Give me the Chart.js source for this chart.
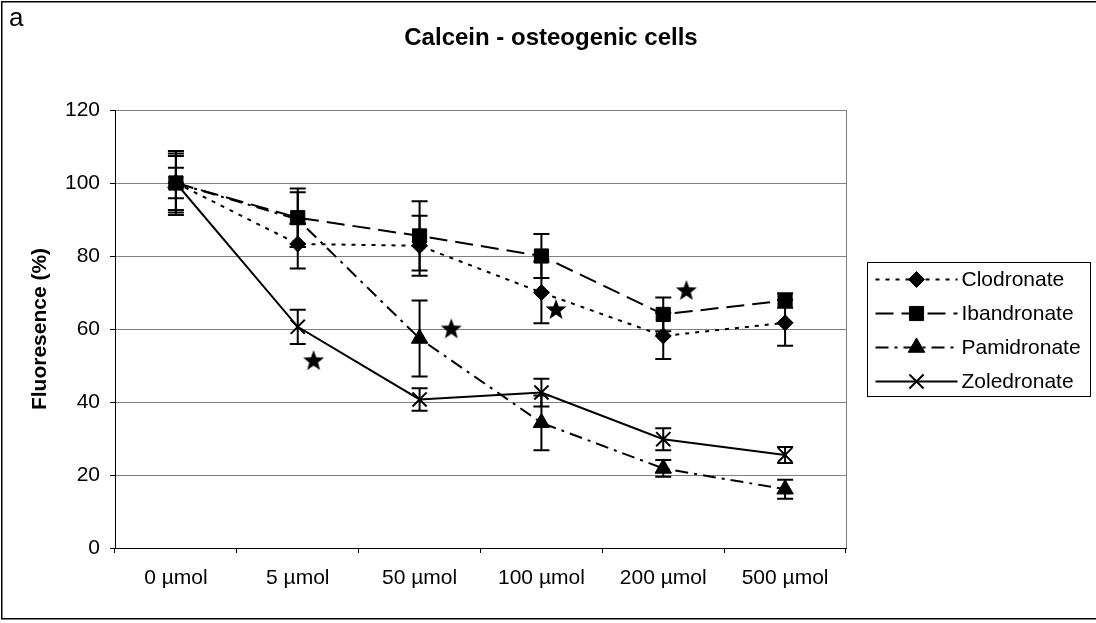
<!DOCTYPE html>
<html><head><meta charset="utf-8">
<script src="https://cdn.jsdelivr.net/npm/chart.js@4"></script>
<style>html,body{margin:0;padding:0;background:#fff;}</style>
</head><body>
<canvas id="c" width="1096" height="623" style="display:block;width:1096px;height:623px"></canvas>
<script>
// ---- data ----
const categories = ['0 µmol', '5 µmol', '50 µmol', '100 µmol', '200 µmol', '500 µmol'];
const seriesNames = ['Clodronate', 'Ibandronate', 'Pamidronate', 'Zoledronate'];
const clodronate = [100, 83.3, 82.8, 70, 58.1, 61.7];
const clodronateErr = [8.1, 6.7, 8.2, 8.4, 6.3, 6.3];
const ibandronate = [100, 90.5, 85.5, 80, 64, 67.8];
const ibandronateErr = [7.4, 8, 9.5, 6, 4.6, 2];
const pamidronate = [100, 90, 57.4, 34.3, 21.8, 16.1];
const pamidronateErr = [8.8, 7.5, 10.4, 7.5, 2.3, 2.6];
const zoledronate = [100, 60.6, 40.7, 42.6, 29.8, 25.5];
const zoledronateErr = [4.2, 4.7, 3.1, 3.8, 3, 2.2];
const starX = [1.13, 2.26, 3.12, 4.19];
const starY = [51.2, 59.9, 65.2, 70.4];
const yTicks = [0, 20, 40, 60, 80, 100, 120];
const chartTitle = 'Calcein - osteogenic cells';
const yTitle = 'Fluoresence (%)';
const panelLabel = 'a';

const FONT = "'Liberation Sans', Arial, Helvetica, sans-serif";
Chart.defaults.font.family = FONT;
Chart.defaults.color = '#000';

function makeStar(R) {
  const c = document.createElement('canvas');
  const s = Math.ceil(R * 2 + 2);
  c.width = s; c.height = s;
  const g = c.getContext('2d');
  g.translate(s / 2, s / 2);
  g.beginPath();
  for (let k = 0; k < 10; k++) {
    const r = k % 2 ? R * 0.42 : R;
    const a = -Math.PI / 2 + k * Math.PI / 5;
    g.lineTo(r * Math.cos(a), r * Math.sin(a));
  }
  g.closePath();
  g.fillStyle = '#000';
  g.fill();
  return c;
}
const starImg = makeStar(11);

function lineDs(label, data, errors, dash, style, radius, bw) {
  return {
    label, data, errors,
    borderColor: '#000', backgroundColor: '#000',
    borderWidth: 2, borderDash: dash, tension: 0,
    pointStyle: style, pointRadius: radius, pointHoverRadius: radius,
    pointBackgroundColor: '#000', pointBorderColor: '#000', pointBorderWidth: bw,
    xAxisID: 'x', yAxisID: 'y', isSeries: true
  };
}

const datasets = [
  lineDs(seriesNames[0], clodronate, clodronateErr, [4, 6], 'rectRot', 8, 1),
  lineDs(seriesNames[1], ibandronate, ibandronateErr, [18, 8], 'rect', 10, 1),
  lineDs(seriesNames[2], pamidronate, pamidronateErr, [13, 6, 3, 6], 'triangle', 9.5, 1),
  lineDs(seriesNames[3], zoledronate, zoledronateErr, [], 'crossRot', 10, 2),
  {
    label: 'stars',
    data: starX.map((x, i) => ({ x, y: starY[i] })),
    showLine: false, pointStyle: starImg, pointRadius: 11,
    xAxisID: 'xs', yAxisID: 'y', borderColor: '#000', backgroundColor: '#000'
  }
];

function drawMarker(ctx, style, x, y, r) {
  ctx.save();
  ctx.fillStyle = '#000'; ctx.strokeStyle = '#000'; ctx.setLineDash([]);
  ctx.beginPath();
  if (style === 'rectRot') {
    ctx.moveTo(x, y - r); ctx.lineTo(x + r, y); ctx.lineTo(x, y + r); ctx.lineTo(x - r, y); ctx.closePath();
    ctx.lineWidth = 1; ctx.fill(); ctx.stroke();
  } else if (style === 'rect') {
    const s = r * Math.SQRT1_2;
    ctx.rect(x - s, y - s, 2 * s, 2 * s); ctx.lineWidth = 1; ctx.fill(); ctx.stroke();
  } else if (style === 'triangle') {
    for (let k = 0; k < 3; k++) {
      const a = k * 2 * Math.PI / 3;
      ctx.lineTo(x + Math.sin(a) * r, y - Math.cos(a) * r);
    }
    ctx.closePath(); ctx.lineWidth = 1; ctx.fill(); ctx.stroke();
  } else if (style === 'crossRot') {
    const s = r * Math.SQRT1_2;
    ctx.moveTo(x - s, y - s); ctx.lineTo(x + s, y + s);
    ctx.moveTo(x + s, y - s); ctx.lineTo(x - s, y + s);
    ctx.lineWidth = 2; ctx.stroke();
  }
  ctx.restore();
}

const decor = {
  id: 'decor',
  beforeDraw(chart) {
    const ctx = chart.ctx;
    ctx.save(); ctx.fillStyle = '#fff'; ctx.fillRect(0, 0, chart.width, chart.height); ctx.restore();
  },
  afterDatasetsDraw(chart) {
    const ctx = chart.ctx; const ys = chart.scales.y;
    chart.data.datasets.forEach((ds, di) => {
      if (!ds.errors) return;
      const meta = chart.getDatasetMeta(di);
      meta.data.forEach((pt, i) => {
        const v = ds.data[i], e = ds.errors[i];
        const x = pt.x;
        const y1 = ys.getPixelForValue(v + e), y2 = ys.getPixelForValue(v - e);
        ctx.save(); ctx.strokeStyle = '#000'; ctx.lineWidth = 2; ctx.setLineDash([]);
        ctx.beginPath();
        ctx.moveTo(x, y1); ctx.lineTo(x, y2);
        ctx.moveTo(x - 8, y1); ctx.lineTo(x + 8, y1);
        ctx.moveTo(x - 8, y2); ctx.lineTo(x + 8, y2);
        ctx.stroke(); ctx.restore();
      });
    });
  },
  afterDraw(chart) {
    const ctx = chart.ctx; const a = chart.chartArea;
    ctx.save();
    // plot area right border
    ctx.strokeStyle = '#808080'; ctx.lineWidth = 1;
    ctx.beginPath(); ctx.moveTo(Math.round(a.right) + 0.5, a.top); ctx.lineTo(Math.round(a.right) + 0.5, a.bottom); ctx.stroke();
    // outer frame
    ctx.strokeStyle = '#000'; ctx.lineWidth = 1.5;
    ctx.strokeRect(1.75, 1.75, chart.width + 10, 617);
    // panel label
    ctx.fillStyle = '#000'; ctx.textAlign = 'left'; ctx.textBaseline = 'alphabetic';
    ctx.font = '26px ' + FONT;
    ctx.fillText(panelLabel, 9, 26);
    // title
    ctx.font = 'bold 24px ' + FONT; ctx.textAlign = 'center'; ctx.textBaseline = 'middle';
    ctx.fillText(chartTitle, 551, 38);
    // legend
    const items = chart.data.datasets.filter(d => d.isSeries);
    const lx = Math.round(a.right) + 21.5, bw = 223, bh = 134;
    const ly = Math.round((a.top + a.bottom) / 2 - bh / 2) + 0.5;
    ctx.strokeStyle = '#000'; ctx.lineWidth = 1;
    ctx.strokeRect(lx, ly, bw, bh);
    ctx.font = '21px ' + FONT; ctx.textAlign = 'left'; ctx.textBaseline = 'middle';
    items.forEach((d, i) => {
      const y = ly + 17 + i * 34;
      ctx.save();
      ctx.strokeStyle = '#000'; ctx.lineWidth = 2; ctx.setLineDash(d.borderDash);
      ctx.beginPath(); ctx.moveTo(lx + 8, y); ctx.lineTo(lx + 90, y); ctx.stroke();
      ctx.restore();
      drawMarker(ctx, d.pointStyle, lx + 49, y, d.pointRadius);
      ctx.fillStyle = '#000';
      ctx.fillText(d.label, lx + 94, y + 1);
    });
    ctx.restore();
  }
};

new Chart(document.getElementById('c'), {
  type: 'line',
  data: { labels: categories, datasets },
  options: {
    responsive: false, animation: false, devicePixelRatio: 1,
    layout: { padding: { top: 110, right: 250, left: 0, bottom: 0 } },
    plugins: { legend: { display: false }, title: { display: false }, tooltip: { enabled: false } },
    scales: {
      x: {
        type: 'category', offset: true, position: 'bottom',
        grid: { display: true, offset: true, drawOnChartArea: false, drawTicks: true, tickLength: 5, color: '#000', lineWidth: 1 },
        border: { display: true, color: '#000', width: 1 },
        ticks: { font: { size: 21 }, color: '#000', padding: 13, maxRotation: 0, autoSkip: false },
        afterFit(s) { s.height = 75; }
      },
      xs: { type: 'linear', display: false, min: -0.5, max: 5.5, position: 'bottom' },
      y: {
        min: 0, max: 120,
        afterBuildTicks(s) { s.ticks = yTicks.map(v => ({ value: v })); },
        grid: { color: '#808080', lineWidth: 1, tickColor: '#000', tickLength: 5 },
        border: { display: true, color: '#000', width: 1 },
        ticks: { font: { size: 21 }, color: '#000', padding: 10 },
        title: { display: true, text: yTitle, font: { size: 21, weight: 'bold' }, color: '#000', padding: { top: 28, bottom: 0 } },
        afterFit(s) { s.width = 115; }
      }
    }
  },
  plugins: [decor]
});
</script>
</body></html>
